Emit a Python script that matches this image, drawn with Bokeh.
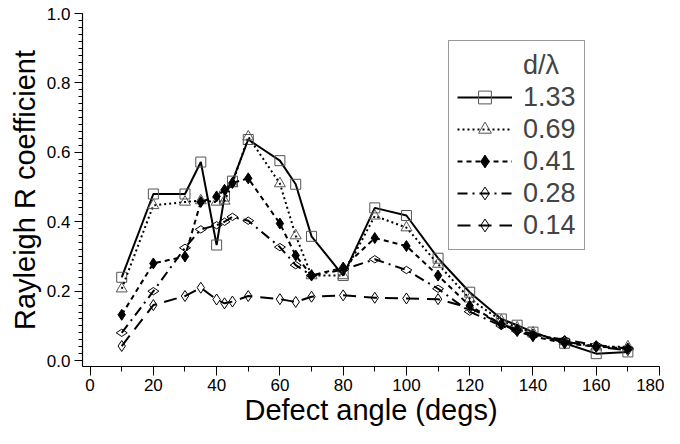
import math
from bokeh.plotting import figure
from bokeh.models import (Legend, LegendItem, SingleIntervalTicker, NumeralTickFormatter,
                          Range1d, ColumnDataSource)
from bokeh.embed import file_html
from bokeh.resources import INLINE

# ---- data ----
angles = [10, 20, 30, 35, 40, 42.5, 45, 50, 60, 65, 70, 80, 90, 100, 110, 120,
          130, 135, 140, 150, 160, 170]
r_133 = [0.24, 0.48, 0.48, 0.572, 0.333, 0.474, 0.517, 0.637, 0.576, 0.508, 0.358,
         0.245, 0.44, 0.418, 0.295, 0.197, 0.12, 0.102, 0.082, 0.05, 0.02, 0.025]
r_069 = [0.207, 0.447, 0.457, 0.461, 0.457, 0.46, 0.51, 0.645, 0.51, 0.36, 0.245,
         0.245, 0.417, 0.383, 0.278, 0.178, 0.115, 0.095, 0.08, 0.055, 0.04, 0.04]
r_041 = [0.132, 0.28, 0.3, 0.457, 0.473, 0.492, 0.512, 0.525, 0.395, 0.303, 0.245,
         0.268, 0.353, 0.33, 0.245, 0.158, 0.105, 0.085, 0.07, 0.05, 0.04, 0.035]
r_028 = [0.08, 0.2, 0.325, 0.378, 0.39, 0.4, 0.414, 0.403, 0.327, 0.275, 0.245,
         0.262, 0.292, 0.261, 0.207, 0.141, 0.1, 0.085, 0.075, 0.06, 0.045, 0.035]
r_014 = [0.042, 0.16, 0.186, 0.21, 0.176, 0.165, 0.17, 0.186, 0.177, 0.169, 0.184,
         0.188, 0.181, 0.179, 0.177, 0.152, 0.105, 0.09, 0.075, 0.055, 0.04, 0.03]
labels = ["1.33", "0.69", "0.41", "0.28", "0.14"]
legend_title = "d/\u03bb"
x_label = "Defect angle (degs)"
y_label = "Rayleigh R coefficient"

FONT = "Liberation Sans"

p = figure(width=664, height=428, output_backend="svg", toolbar_location=None,
           x_range=Range1d(-2.4, 180), y_range=Range1d(-0.017, 1.0),
           min_border_left=82, min_border_right=5, min_border_top=13, min_border_bottom=40)
p.outline_line_color = None
p.xgrid.grid_line_color = None
p.ygrid.grid_line_color = None
p.background_fill_color = "white"

styles = [
    dict(dash="solid", marker="square", size=10, fill=None, angle=0.0, lc="#555555"),
    dict(dash="2 3", marker="triangle", size=11, fill=None, angle=0.0, lc="#555555"),
    dict(dash="5 4", marker="diamond", size=11, fill="black", angle=0.0, lc="black"),
    dict(dash="10 5 2 5", marker="diamond", size=11, fill=None, angle=math.pi / 2, lc="black"),
    dict(dash="13 8", marker="diamond", size=11, fill=None, angle=0.0, lc="black"),
]
series = [r_133, r_069, r_041, r_028, r_014]

items = []
dummy = p.line(x=[], y=[], line_alpha=0)
items.append(LegendItem(label=legend_title, renderers=[dummy]))
for lab, ys, st in zip(labels, series, styles):
    src = ColumnDataSource(dict(x=angles, y=ys))
    ln = p.line("x", "y", source=src, line_color="black", line_width=2, line_dash=st["dash"])
    sc = p.scatter("x", "y", source=src, marker=st["marker"], size=st["size"],
                   line_color=st["lc"], line_width=1,
                   fill_color=st["fill"] if st["fill"] else "white",
                   fill_alpha=1.0 if st["fill"] else 0.0, angle=st["angle"])
    items.append(LegendItem(label=lab, renderers=[ln, sc]))

legend = Legend(items=items, location=(366, 116), glyph_width=55, glyph_height=32,
                label_height=28, spacing=0, padding=8, label_standoff=11, margin=0,
                label_text_font=FONT, label_text_font_size="27px",
                border_line_color="#333333", border_line_width=1.5,
                background_fill_color="white", background_fill_alpha=1.0)
p.add_layout(legend, "center")

# axes
p.xaxis.ticker = SingleIntervalTicker(interval=20, num_minor_ticks=2)
p.yaxis.ticker = SingleIntervalTicker(interval=0.2, num_minor_ticks=10)
p.yaxis.formatter = NumeralTickFormatter(format="0.0")
for ax in (p.xaxis[0], p.yaxis[0]):
    ax.axis_line_color = "black"
    ax.axis_line_width = 1.2
    ax.major_tick_line_color = "black"
    ax.minor_tick_line_color = "black"
    ax.major_tick_in = 0
    ax.minor_tick_in = 0
    ax.major_label_text_font = FONT
    ax.major_label_text_font_size = "17px"
    ax.major_label_text_color = "black"
    ax.axis_label_text_font = FONT
    ax.axis_label_text_font_size = "29px"
    ax.axis_label_text_font_style = "normal"
    ax.axis_label_text_color = "black"
p.xaxis.major_tick_out = 9
p.xaxis.minor_tick_out = 5
p.yaxis.major_tick_out = 8
p.yaxis.minor_tick_out = 4
p.xaxis.major_label_standoff = 3
p.yaxis.major_label_standoff = 4
p.xaxis.axis_label_standoff = 0
p.yaxis.axis_label_standoff = 3
p.xaxis.axis_label = x_label
p.yaxis.axis_label = y_label

open("out.html", "w").write(file_html(p, INLINE))
